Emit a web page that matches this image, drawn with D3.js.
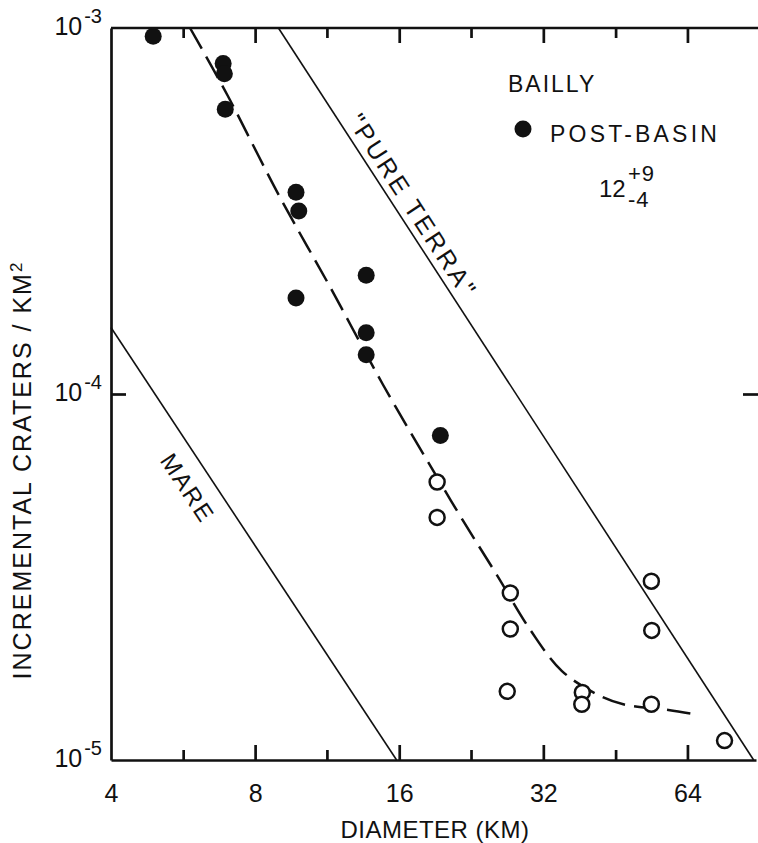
<!DOCTYPE html>
<html>
<head>
<meta charset="utf-8">
<script src="https://cdn.jsdelivr.net/npm/d3@7"></script>
<style>
  body { margin: 0; background: #fff; }
  svg { display: block; font-family: "Liberation Sans", Arial, sans-serif; }
</style>
</head>
<body>
<svg width="758" height="843"></svg>
<script>
// post-basin craters (filled dots)
let postD = [4.9, 6.86, 6.9, 6.93, 9.74, 9.87, 9.74, 13.65, 13.65, 13.65, 19.5];
let postN = [9.5e-4, 8.0e-4, 7.5e-4, 6.0e-4, 3.56e-4, 3.16e-4, 1.83e-4, 2.11e-4, 1.47e-4, 1.28e-4, 7.7e-5];

// open circles
let openD = [19.2, 19.2, 27.3, 27.3, 26.9, 38.6, 38.5, 53.8, 53.9, 53.8, 76.5];
let openN = [5.75e-5, 4.6e-5, 2.86e-5, 2.28e-5, 1.54e-5, 1.53e-5, 1.42e-5, 3.08e-5, 2.26e-5, 1.42e-5, 1.13e-5];

// dashed fit curve
let fitD = [5.85, 7.0, 8.98, 11.5, 14.8, 18.8, 21.7, 25.6, 30.1, 35, 41.9, 47, 58.4, 64.9];
let fitN = [1e-3, 6.56e-4, 3.48e-4, 1.95e-4, 1.06e-4, 6.2e-5, 4.53e-5, 3.2e-5, 2.26e-5, 1.75e-5, 1.5e-5, 1.42e-5, 1.37e-5, 1.34e-5];

// reference lines
let mareD = [4, 15.8], mareN = [1.52e-4, 1e-5];
let terraD = [8.95, 88], terraN = [1e-3, 1e-5];

let xMajor = [8, 16, 32, 64];
let xMinor = [5.66, 11.3, 22.6, 45.3];
let xLabels = [4, 8, 16, 32, 64];
let yLabels = [1e-3, 1e-4, 1e-5];

let width = 758, height = 843;
let svg = d3.select("svg");

let x = d3.scaleLog().base(2).domain([4, 89]).range([111, 756]);
let y = d3.scaleLog().domain([1e-5, 1e-3]).range([760, 28]);

let ink = "#111";

// bottom axis
let gB = svg.append("g").attr("transform", "translate(0," + y(1e-5) + ")");
gB.call(d3.axisBottom(x).tickValues(xMajor).tickSize(-15).tickSizeOuter(0).tickFormat(""));
gB.append("g").call(d3.axisBottom(x).tickValues(xMinor).tickSize(-10).tickFormat(""))
  .select(".domain").remove();

// top axis
let gT = svg.append("g").attr("transform", "translate(0," + y(1e-3) + ")");
gT.call(d3.axisTop(x).tickValues(xMajor).tickSize(-15).tickFormat("")).select(".domain").remove();
gT.append("g").call(d3.axisTop(x).tickValues(xMinor).tickSize(-10).tickFormat(""))
  .select(".domain").remove();
gT.append("line").attr("x1", x(4)).attr("x2", width).attr("y1", 0).attr("y2", 0);

// left axis
let gL = svg.append("g").attr("transform", "translate(" + x(4) + ",0)");
gL.call(d3.axisLeft(y).tickValues([1e-4]).tickSize(-15).tickSizeOuter(0).tickFormat(""));

// right tick only
let gR = svg.append("g").attr("transform", "translate(" + width + ",0)");
gR.call(d3.axisLeft(y).tickValues([1e-4]).tickSize(15).tickFormat("")).select(".domain").remove();

svg.selectAll(".domain, .tick line, g > line")
  .attr("stroke", ink).attr("stroke-width", 2.7);

// x tick labels
let gLab = svg.append("g").attr("transform", "translate(0," + y(1e-5) + ")");
gLab.call(d3.axisBottom(x).tickValues(xLabels).tickSize(0).tickPadding(24)
  .tickFormat(d3.format("d")));
gLab.select(".domain").remove();
gLab.selectAll("text").attr("font-size", 25).attr("font-family", "Liberation Sans, Arial, sans-serif")
  .attr("fill", ink);

// y tick labels with exponents
svg.append("g").selectAll("text")
  .data(yLabels)
  .enter()
  .append("text")
  .attr("x", 102)
  .attr("y", d => y(d) + 7)
  .attr("text-anchor", "end")
  .attr("font-size", 25)
  .attr("fill", ink)
  .each(function (d) {
    let t = d3.select(this);
    t.append("tspan").text("10");
    t.append("tspan").attr("dy", -12).attr("font-size", 20)
      .attr("dx", 2).text("-" + Math.round(-Math.log10(d)));
  });

// axis titles
svg.append("text")
  .attr("x", 435).attr("y", 838)
  .attr("text-anchor", "middle")
  .attr("font-size", 24).attr("letter-spacing", 0.5)
  .attr("fill", ink)
  .text("DIAMETER (KM)");

let yt = svg.append("text")
  .attr("transform", "translate(31,470) rotate(-90)")
  .attr("text-anchor", "middle")
  .attr("font-size", 25).attr("letter-spacing", 2)
  .attr("fill", ink);
yt.append("tspan").text("INCREMENTAL  CRATERS / KM");
yt.append("tspan").attr("dy", -9).attr("font-size", 17).text("2");

// reference lines
let line = d3.line().x(d => x(d[0])).y(d => y(d[1]));
let mare = d3.zip(mareD, mareN), terra = d3.zip(terraD, terraN);

svg.append("path").datum(mare).attr("d", line)
  .attr("fill", "none").attr("stroke", ink).attr("stroke-width", 1.6);
svg.append("path").datum(terra).attr("d", line)
  .attr("fill", "none").attr("stroke", ink).attr("stroke-width", 1.6);

// labels along the reference lines
function alongLabel(pts, t, off, size, sp, txt) {
  let p0 = [x(pts[0][0]), y(pts[0][1])], p1 = [x(pts[1][0]), y(pts[1][1])];
  let ang = Math.atan2(p1[1] - p0[1], p1[0] - p0[0]) * 180 / Math.PI;
  let px = p0[0] + t * (p1[0] - p0[0]), py = p0[1] + t * (p1[1] - p0[1]);
  svg.append("text")
    .attr("transform", "translate(" + px + "," + py + ") rotate(" + ang + ")")
    .attr("y", off)
    .attr("text-anchor", "middle")
    .attr("font-size", size).attr("letter-spacing", sp)
    .attr("fill", ink)
    .text(txt);
}
alongLabel(terra, 0.255, -7, 25, 3, "\"PURE TERRA\"");
alongLabel(mare, 0.34, 33, 24, 2, "MARE");

// dashed fit
svg.append("path").datum(d3.zip(fitD, fitN))
  .attr("d", line.curve(d3.curveCatmullRom))
  .attr("fill", "none").attr("stroke", ink).attr("stroke-width", 2.5)
  .attr("stroke-dasharray", "24,9");

// points
svg.append("g").selectAll("circle")
  .data(d3.zip(postD, postN))
  .enter()
  .append("circle")
  .attr("cx", d => x(d[0])).attr("cy", d => y(d[1]))
  .attr("r", 8.5).attr("fill", ink);

svg.append("g").selectAll("circle")
  .data(d3.zip(openD, openN))
  .enter()
  .append("circle")
  .attr("cx", d => x(d[0])).attr("cy", d => y(d[1]))
  .attr("r", 7.5).attr("fill", "#fff").attr("stroke", ink).attr("stroke-width", 2.5);

// legend block
let leg = svg.append("g").attr("fill", ink).attr("font-size", 23).attr("letter-spacing", 2);
leg.append("text").attr("x", 508).attr("y", 92).text("BAILLY");
leg.append("circle").attr("cx", 523).attr("cy", 129).attr("r", 8.5);
leg.append("text").attr("x", 550).attr("y", 142).attr("letter-spacing", 3.2).text("POST-BASIN");
leg.append("text").attr("x", 599).attr("y", 197).attr("font-size", 24).attr("letter-spacing", 0).text("12");
leg.append("text").attr("x", 628).attr("y", 181).attr("font-size", 22).attr("letter-spacing", 1).text("+9");
leg.append("text").attr("x", 628).attr("y", 207).attr("font-size", 22).attr("letter-spacing", 1).text("-4");
</script>
</body>
</html>
